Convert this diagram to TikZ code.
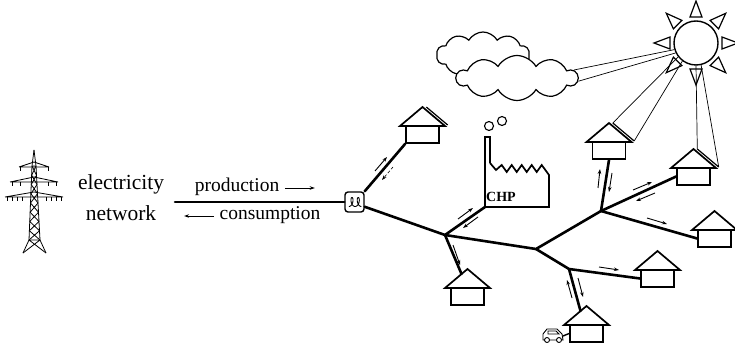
\documentclass[tikz,border=0pt]{standalone}
\usepackage{fontspec}
\setmainfont{Liberation Serif}
\usepackage{tikz}
\usetikzlibrary{calc, shapes.symbols, arrows.meta}

\tikzset{
  grid/.style={line width=2.6pt, line cap=round},
  houseline/.style={line width=1.7pt, line join=miter},
  housebody/.style={draw, houseline, fill=white, minimum width=33pt, minimum height=17pt, inner sep=0pt},
  ray/.style={line width=0.7pt},
  flow/.style={line width=0.9pt, -{Stealth[length=5pt, width=3.5pt]}},
  mast/.style={line width=0.8pt},
  puff/.style={draw, cloud, cloud puffs=10, cloud puff arc=120, aspect=2.2, inner sep=0pt, line width=1.2pt, fill=white},
  house/.pic={
    \node[housebody] (-body) at (0,-8.5) {};
    \draw[houseline, fill=white] (-22.5,-17) -- (0,-36) -- (22.5,-17) -- cycle;
    \coordinate (-roof) at (-6,-31);
  },
  solarhouse/.pic={
    \node[housebody] (-body) at (0,-8.5) {};
    \draw[houseline, fill=white] (-22.5,-17) -- (0,-36) -- (22.5,-17) -- cycle;
    \coordinate (-p1) at (3.8,-36);
    \coordinate (-p2) at (25.2,-18);
    \draw[line width=1.2pt] (-p1) -- (-p2);
  }
}

\begin{document}
\begin{tikzpicture}[x=1pt, y=-1pt]
  \useasboundingbox (0,0) rectangle (735,347);

  % pylon
  \begin{scope}[mast]
    \draw (34,150) -- (32,166) -- (29,240) -- (23,253);
    \draw (34,150) -- (36,166) -- (40,240) -- (46,253);
    \draw (32,166) -- (36,166) (29,240) -- (40,240) (29,240) -- (46,253) (40,240) -- (23,253);
    \foreach \i [evaluate=\i as \ya using 166+9.25*\i, evaluate=\i as \yb using 166+9.25*(\i+1)] in {0,...,7}
      \draw ({32-3*(\ya-166)/74},\ya) -- ({36+4*(\yb-166)/74},\yb)
            ({36+4*(\ya-166)/74},\ya) -- ({32-3*(\yb-166)/74},\yb);
    \foreach \y/\w in {167/15, 182/24, 197/29}
      \draw (34-\w,\y) -- (34+\w,\y) (34-\w,\y) -- (34,\y-5) -- (34+\w,\y);
    \foreach \x/\y in {20/167, 48/167, 12/182, 20/182, 48/182, 56/182,
                       7/197, 12/197, 17/197, 22/197, 46/197, 51/197, 56/197, 61/197}
      \draw (\x,\y) -- (\x,\y+4);
  \end{scope}

  \node[font=\fontsize{21.5}{31}\selectfont, align=center] (net) at (121,198) {electricity\\network};
  \node[font=\fontsize{19.5}{22}\selectfont] (prod) at (237,187) {production};
  \node[font=\fontsize{19.5}{22}\selectfont] (cons) at (270,215) {consumption};
  \draw[flow] ($(prod.east)+(2,1)$) -- ++(30,0);
  \draw[flow] ($(cons.west)+(-2,1)$) -- ++(-30,0);

  % clouds and sun
  \node[puff, minimum width=93pt, minimum height=46pt] (cloudback) at (483,55) {};
  \node[puff, minimum width=121pt, minimum height=45pt] (cloudfront) at (517,78) {};
  \node[draw, circle, minimum size=44pt, inner sep=0pt, line width=1.4pt] (sun) at (696,43) {};
  \foreach \a in {0,45,...,315}
    \draw[line width=1.2pt, line join=miter] ($(sun.center)+(\a:26)+(\a+90:6)$) -- ($(sun.center)+(\a:42)$)
      -- ($(sun.center)+(\a:26)+(\a-90:6)$) -- cycle;

  % houses
  \pic (h1) at (422.5,143) {solarhouse};
  \pic (h2) at (467.5,305) {house};
  \pic (h3) at (609,159) {solarhouse};
  \pic (h4) at (693.5,185) {solarhouse};
  \pic (h5) at (714.5,247) {house};
  \pic (h6) at (657.5,287) {house};
  \pic (h7) at (586.5,342) {house};

  % CHP plant
  \coordinate (chp) at (485,207);
  \draw[houseline] (490,163) -- (490,137) -- (485,137) -- (chp) -- (549,207) -- (549,175)
    -- (541.7,165) -- (536.7,172) -- (531.7,165) -- (526.7,172) -- (521.7,165) -- (516.7,172)
    -- (511.7,165) -- (506.7,172) -- (501.7,165) -- (496,170) -- (490,163);
  \draw[line width=1.1pt] (489,126) circle[radius=4.5pt] (502,121) circle[radius=4.5pt];
  \node[font=\fontsize{14}{16}\selectfont\bfseries] (chplabel) at (501,197) {CHP};

  % meter
  \node[draw, rounded corners=3pt, line width=1.4pt, minimum width=19pt, minimum height=20pt, inner sep=0pt] (meter) at (354.5,202) {};
  \draw[line width=0.9pt, line join=round] plot[domain=pi:5*pi, samples=90, smooth]
    ({345.7+\x-2.4*sin(\x r)}, {202-4.5*cos(\x r)});

  % e-car
  \coordinate (car) at (563,336);
  \begin{scope}[line width=0.9pt]
    \draw (543,340) -- (543,334) -- (547,329) -- (557,329) -- (562,334) -- (563,340) -- cycle;
    \draw (548,331) -- (556,331) -- (559,334) -- (548,334) -- cycle;
    \draw[fill=white] (547,340) circle[radius=2.5pt] (559,340) circle[radius=2.5pt];
  \end{scope}

  % distribution grid
  \coordinate (gridend) at (175,202);
  \coordinate (j1) at (445,235);
  \coordinate (j2) at (536,249);
  \coordinate (j3) at (601,211);
  \coordinate (j4) at (569,269);
  \draw[grid] (gridend) -- (meter.west);
  \draw[grid] (meter.north east) -- (h1-body.south west);
  \draw[grid] (meter.-25) -- (j1) -- (j2) -- (j3);
  \draw[grid] (j1) -- (chp);
  \draw[grid] (j1) -- (h2-roof);
  \draw[grid] (j2) -- (j4) -- (h6-body.west);
  \draw[grid] (j4) -- (h7-roof);
  \draw[grid] (j3) -- (h3-body.south);
  \draw[grid] (j3) -- (h4-body.west);
  \draw[grid] (j3) -- (h5-body.west);
  \draw[line width=1.4pt] (car) -- (h7-body.west);

  % sunlight
  \draw[ray] (sun.197) -- (cloudfront.8);
  \draw[ray] (sun.206) -- (cloudfront.-3);
  \draw[ray] (sun.218) -- (h3-p1);
  \draw[ray] (sun.233) -- (h3-p2);
  \draw[ray] (sun.270) -- (h4-p1);
  \draw[ray] (sun.283) -- (h4-p2);

  % power flows
  \draw[flow] (375,171) -- (387,157);
  \draw[flow, densely dashed, line width=0.6pt] (393,167) -- (382,180);
  \draw[flow] (458,219) -- (473,208);
  \draw[flow] (478,217) -- (463,228);
  \draw[flow] (453,245) -- (460,265);
  \draw[flow] (598,188) -- (600,169);
  \draw[flow] (612,173) -- (609,192);
  \draw[flow] (633,190) -- (652,182);
  \draw[flow] (655,193) -- (636,201);
  \draw[flow] (647,218) -- (667,224);
  \draw[flow] (599,267) -- (619,270);
  \draw[flow] (572,298) -- (567,280);
  \draw[flow] (578,278) -- (583,297);
\end{tikzpicture}
\end{document}
